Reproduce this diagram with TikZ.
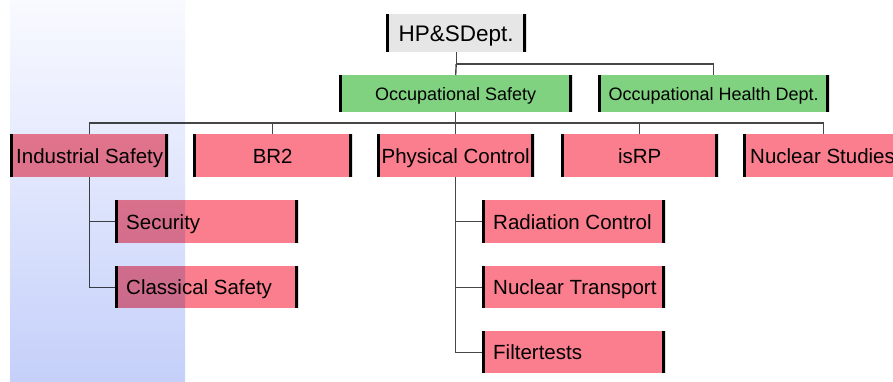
\documentclass[tikz,border=0pt]{standalone}
\usepackage{fontspec}
\setmainfont{Liberation Sans}
\usetikzlibrary{calc}
\definecolor{boxgray}{RGB}{230,230,230}
\definecolor{boxgreen}{RGB}{128,210,128}
\definecolor{boxpink}{RGB}{250,126,142}
\definecolor{linegray}{RGB}{70,70,70}
\definecolor{bandtop}{RGB}{249,250,255}
\definecolor{bandbottom}{RGB}{197,208,250}
% left-aligned label of a given box width and left inset
\newcommand{\leftlabel}[3]{\makebox[#1][l]{\hspace*{#2}#3}}
\tikzset{
  orgbox/.style={rectangle, anchor=north west, inner sep=0pt,
    font=\fontsize{20.5}{24}\selectfont, text height=14.7pt, text depth=0pt,
    path picture={
      \draw[black, line width=6pt]
        (path picture bounding box.north west) -- (path picture bounding box.south west)
        (path picture bounding box.north east) -- (path picture bounding box.south east);
    }},
  topbox/.style={orgbox, fill=boxgray, font=\fontsize{22.5}{26}\selectfont, text height=16.1pt},
  deptbox/.style={orgbox, fill=boxgreen, font=\fontsize{18}{22}\selectfont, text height=12.9pt},
  unitbox/.style={orgbox, fill=boxpink},
  wire/.style={draw=linegray, line width=1.4pt},
}
\begin{document}
\begin{tikzpicture}[x=1pt, y=-1pt]
\clip (0,0) rectangle (893,381);
\fill[white] (0,0) rectangle (893,381);

% management levels
\node[topbox, minimum width=140pt, minimum height=38pt] (hp) at (386,14) {HP\&SDept.};
\node[deptbox, minimum width=233pt, minimum height=37pt] (os) at (339,75) {Occupational Safety};
\node[deptbox, minimum width=231pt, minimum height=37pt] (ohd) at (598,75) {Occupational Health Dept.};

% sections
\node[unitbox, minimum height=43pt] (ind) at (10,134) {\leftlabel{158pt}{6pt}{Industrial Safety}};
\node[unitbox, minimum width=159pt, minimum height=43pt] (br2) at (193,134) {BR2};
\node[unitbox, minimum width=157pt, minimum height=43pt] (pc) at (377,134) {Physical Control};
\node[unitbox, minimum width=157pt, minimum height=43pt] (isrp) at (561,134) {isRP};
\node[unitbox, minimum height=43pt] (ns) at (743,134) {\leftlabel{160pt}{7pt}{Nuclear Studies}};

% groups
\node[unitbox, minimum height=43pt] (sec) at (115,200) {\leftlabel{183pt}{11pt}{Security}};
\node[unitbox, minimum height=42pt] (cls) at (115,266) {\leftlabel{183pt}{11pt}{Classical Safety}};
\node[unitbox, minimum height=43pt] (rc) at (482,200) {\leftlabel{183pt}{11pt}{Radiation Control}};
\node[unitbox, minimum height=42pt] (nt) at (482,266) {\leftlabel{183pt}{11pt}{Nuclear Transport}};
\node[unitbox, minimum height=42pt] (ft) at (482,331) {\leftlabel{183pt}{11pt}{Filtertests}};

% connectors
\coordinate (b1) at (0,64);
\coordinate (b2) at (0,123);
\draw[wire] (hp.south) -- (hp.south |- b1) -| (ohd.north);
\draw[wire] (hp.south |- b1) -- (os.north);
\draw[wire] (os.south) -- (pc.north);
\draw[wire] (ind.north) -- (ind.north |- b2) -- (ns.north |- b2) -- (ns.north);
\draw[wire] (br2.north |- b2) -- (br2.north);
\draw[wire] (isrp.north |- b2) -- (isrp.north);
\draw[wire] (ind.south) |- (cls.west);
\draw[wire] (ind.south |- sec.west) -- (sec.west);
\draw[wire] (pc.south) |- (ft.west);
\draw[wire] (pc.south |- rc.west) -- (rc.west);
\draw[wire] (pc.south |- nt.west) -- (nt.west);

% tinted band laid over the left column
\begin{scope}[blend mode=multiply]
\shade[top color=bandtop, bottom color=bandbottom] (10,0) rectangle (185,381);
\end{scope}
\end{tikzpicture}
\end{document}
